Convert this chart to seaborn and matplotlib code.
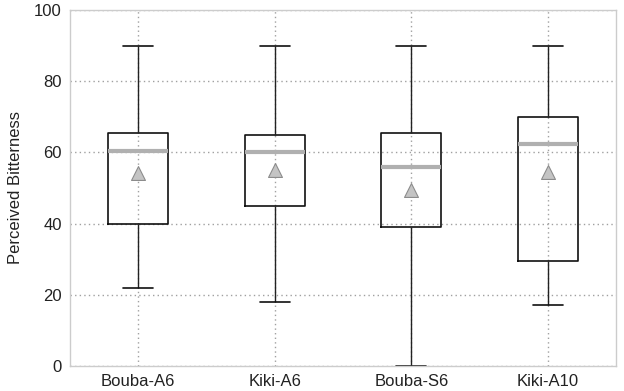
import matplotlib
matplotlib.use("Agg")
import matplotlib.pyplot as plt
import seaborn as sns
import pandas as pd

categories = ["Bouba-A6", "Kiki-A6", "Bouba-S6", "Kiki-A10"]
whisker_low = [22, 18, 0, 17]
q1 = [40, 45, 39, 29.5]
median = [60.5, 60, 56, 62.5]
q3 = [65.5, 65, 65.5, 70]
whisker_high = [90, 90, 90, 90]
means = [54.3, 55, 49.3, 54.5]

rows = []
for i, c in enumerate(categories):
    for v in (whisker_low[i], q1[i], median[i], q3[i], whisker_high[i]):
        rows.append({"group": c, "value": v})
df = pd.DataFrame(rows)
mean_df = pd.DataFrame({"group": categories, "value": means})

sns.set_style("white")
plt.rcParams["font.family"] = ["Liberation Sans", "DejaVu Sans"]

fig = plt.figure(figsize=(6.24, 3.91), dpi=100)
ax = fig.add_axes([70/624, 25/391, 546/624, 356/391])

sns.boxplot(data=df, x="group", y="value", order=categories, ax=ax,
            whis=(0, 100), width=0.44, fill=False, color="black",
            linewidth=1.1,
            medianprops=dict(color="#b0b0b0", linewidth=3.0),
            capprops=dict(color="#111111", linewidth=1.2),
            whiskerprops=dict(color="#222222", linewidth=1.0),
            boxprops=dict(color="#111111", linewidth=1.2),
            showfliers=False)
sns.scatterplot(data=mean_df, x="group", y="value", ax=ax, marker="^",
                s=100, color="#c4c4c4", edgecolor="#8c8c8c", linewidth=0.8,
                zorder=5, legend=False)

ax.set_ylim(0, 100)
ax.set_xlim(-0.5, 3.5)
ax.set_yticks([0, 20, 40, 60, 80, 100])
ax.set_axisbelow(True)
ax.grid(True, axis="both", linestyle=(0, (1, 2.3)), color="#a0a0a0", linewidth=1.0)
for s in ax.spines.values():
    s.set_color("#cccccc")
    s.set_linewidth(1.0)
ax.tick_params(axis="both", length=0, labelsize=12, colors="#222222", pad=6)
ax.set_xlabel("")
ax.set_ylabel("Perceived Bitterness", fontsize=12, color="#222222", labelpad=8)

fig.savefig("out.png", dpi=100)
